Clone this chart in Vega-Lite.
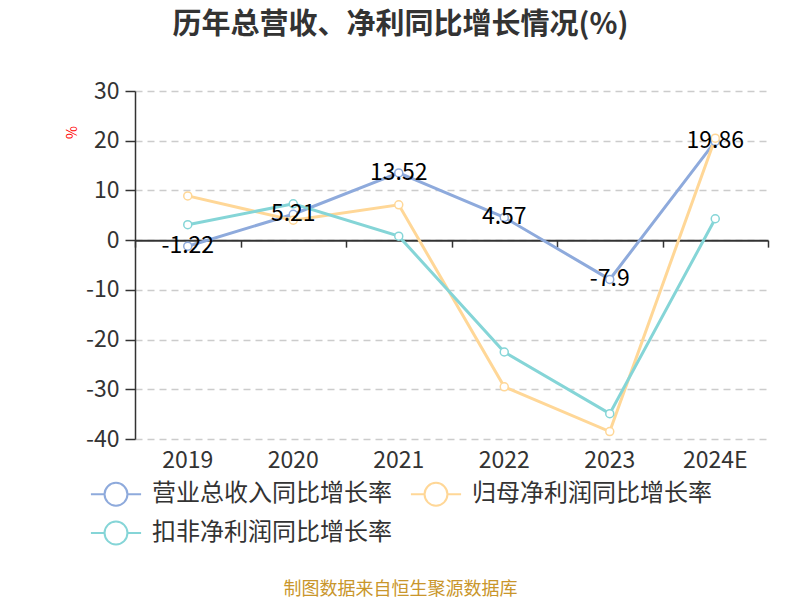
{
  "$schema": "https://vega.github.io/schema/vega-lite/v6.json",
  "width": 633,
  "height": 348,
  "autosize": {"type": "none"},
  "padding": {"left": 135, "top": 91, "right": 32, "bottom": 161},
  "background": "white",
  "config": {"font": "Noto Sans CJK SC", "view": {"stroke": null}},
  "title": {
    "text": "历年总营收、净利同比增长情况(%)",
    "fontSize": 29,
    "fontWeight": "bold",
    "color": "#333333",
    "anchor": "middle",
    "dx": -51,
    "offset": 40
  },
  "data": {
    "values": [
      {"year": "2019", "series": "营业总收入同比增长率", "value": -1.22},
      {"year": "2020", "series": "营业总收入同比增长率", "value": 5.21},
      {"year": "2021", "series": "营业总收入同比增长率", "value": 13.52},
      {"year": "2022", "series": "营业总收入同比增长率", "value": 4.57},
      {"year": "2023", "series": "营业总收入同比增长率", "value": -7.9},
      {"year": "2024E", "series": "营业总收入同比增长率", "value": 19.86},
      {"year": "2019", "series": "归母净利润同比增长率", "value": 8.9},
      {"year": "2020", "series": "归母净利润同比增长率", "value": 4.0},
      {"year": "2021", "series": "归母净利润同比增长率", "value": 7.1},
      {"year": "2022", "series": "归母净利润同比增长率", "value": -29.5},
      {"year": "2023", "series": "归母净利润同比增长率", "value": -38.5},
      {"year": "2024E", "series": "归母净利润同比增长率", "value": 20.5},
      {"year": "2019", "series": "扣非净利润同比增长率", "value": 3.1},
      {"year": "2020", "series": "扣非净利润同比增长率", "value": 7.3},
      {"year": "2021", "series": "扣非净利润同比增长率", "value": 0.8},
      {"year": "2022", "series": "扣非净利润同比增长率", "value": -22.5},
      {"year": "2023", "series": "扣非净利润同比增长率", "value": -34.9},
      {"year": "2024E", "series": "扣非净利润同比增长率", "value": 4.3}
    ]
  },
  "layer": [
    {
      "mark": {
        "type": "line",
        "strokeWidth": 3,
        "point": {"filled": false, "fill": "white", "size": 64, "strokeWidth": 1.5, "opacity": 1}
      },
      "encoding": {
        "x": {
          "field": "year",
          "type": "ordinal",
          "sort": ["2019", "2020", "2021", "2022", "2023", "2024E"],
          "scale": {"type": "band", "paddingInner": 0, "paddingOuter": 0},
          "axis": {
            "orient": "bottom",
            "domain": false,
            "ticks": false,
            "grid": false,
            "labelAngle": 0,
            "labelFontSize": 23,
            "labelColor": "#333333",
            "labelPadding": 10,
            "title": "制图数据来自恒生聚源数据库",
            "titleColor": "#c9962b",
            "titleFontSize": 18,
            "titleFontWeight": "normal",
            "titleX": 265,
            "titleY": 150,
            "titleAlign": "center",
            "titleBaseline": "middle"
          }
        },
        "y": {
          "field": "value",
          "type": "quantitative",
          "scale": {"domain": [-40, 30], "nice": false, "zero": false},
          "axis": {
            "values": [-40, -30, -20, -10, 0, 10, 20, 30],
            "labelExpr": "'' + datum.value",
            "labelFontSize": 23,
            "labelColor": "#333333",
            "labelPadding": 6,
            "domainColor": "#333333",
            "domainWidth": 1.5,
            "tickColor": "#333333",
            "tickSize": 10,
            "tickWidth": 1.5,
            "gridColor": "#cccccc",
            "gridDash": [7, 5],
            "gridWidth": 1.5,
            "title": "%",
            "titleColor": "red",
            "titleFontSize": 14,
            "titleFontWeight": "normal",
            "titleAngle": 270,
            "titleX": -63,
            "titleY": 41,
            "titleAlign": "center",
            "titleBaseline": "middle"
          }
        },
        "color": {
          "field": "series",
          "type": "nominal",
          "sort": ["营业总收入同比增长率", "归母净利润同比增长率", "扣非净利润同比增长率"],
          "scale": {
            "domain": ["营业总收入同比增长率", "归母净利润同比增长率", "扣非净利润同比增长率"],
            "range": ["#8eaadc", "#ffd797", "#85d5d7"]
          },
          "legend": {
            "orient": "none",
            "legendX": -42,
            "legendY": 380,
            "direction": "horizontal",
            "columns": 2,
            "title": null,
            "labelFontSize": 24,
            "labelColor": "#333333",
            "labelOffset": 13,
            "columnPadding": 14,
            "rowPadding": 0,
            "symbolType": "M-1.14,0H-0.52M0.52,0H1.14M0.52,0A0.52,0.52,0,1,1,-0.52,0A0.52,0.52,0,1,1,0.52,0",
            "symbolSize": 1936,
            "symbolStrokeWidth": 2,
            "symbolFillColor": "white",
            "symbolOpacity": 1,
            "labelLimit": 400,
            "encode": {"symbols": {"update": {"fill": {"value": "white"}, "strokeWidth": {"value": 2}}}}
          }
        }
      }
    },
    {
      "transform": [{"filter": "datum.series === '营业总收入同比增长率'"}],
      "mark": {"type": "text", "fontSize": 23, "color": "#000000", "baseline": "middle", "align": "center"},
      "encoding": {
        "x": {
          "field": "year",
          "type": "ordinal",
          "sort": ["2019", "2020", "2021", "2022", "2023", "2024E"],
          "axis": {
            "orient": "bottom",
            "offset": -198.857,
            "labels": false,
            "domain": true,
            "domainColor": "#333333",
            "domainWidth": 2,
            "ticks": true,
            "tickBand": "extent",
            "tickSize": 7,
            "tickColor": "#333333",
            "tickWidth": 1.5,
            "grid": false,
            "title": null
          }
        },
        "y": {"field": "value", "type": "quantitative"},
        "text": {"field": "value", "type": "nominal"}
      }
    }
  ],
  "resolve": {"axis": {"x": "independent"}}
}
